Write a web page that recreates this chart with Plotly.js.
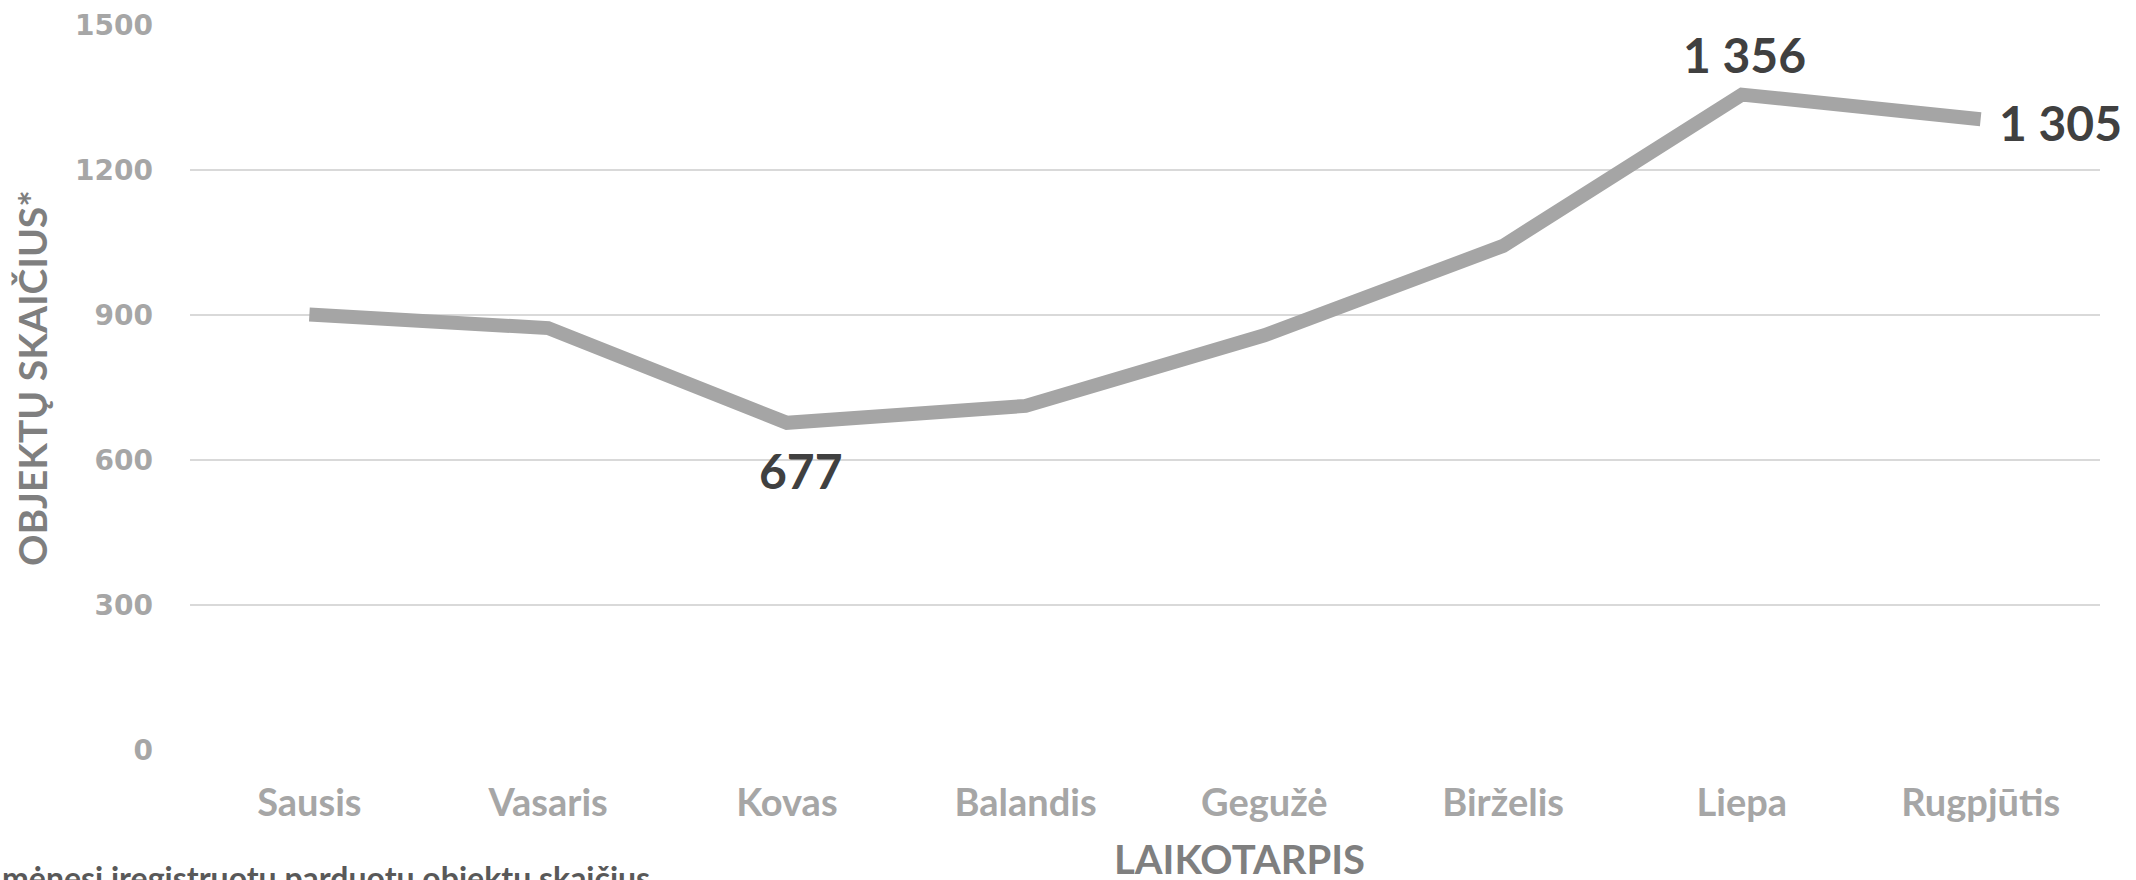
<!DOCTYPE html>
<html>
<head>
<meta charset="utf-8">
<script src="https://cdn.plot.ly/plotly-3.0.1.min.js"></script>
<style>html,body{margin:0;padding:0;background:#fff;}#chart{width:2136px;height:880px;}</style>
</head>
<body>
<div id="chart"></div>
<script>
const months = ["Sausis", "Vasaris", "Kovas", "Balandis", "Gegužė", "Birželis", "Liepa", "Rugpjūtis"];
const objectCounts = [901, 873, 677, 712, 858, 1043, 1356, 1305];
const yTickValues = [0, 300, 600, 900, 1200, 1500];
const labelledIdx = [2, 6, 7];
const yTitle = "OBJEKTŲ SKAIČIUS*";
const xTitle = "LAIKOTARPIS";
const footnote = "mėnesį įregistruotų parduotų objektų skaičius";

function fmt(v) { return String(v).replace(/\B(?=(\d{3})+(?!\d))/g, " "); }

const labelStyle = {
  2: {xanchor: "center", yanchor: "middle", xshift: 14, yshift: -48},
  6: {xanchor: "center", yanchor: "middle", xshift: 3, yshift: 40},
  7: {xanchor: "left", yanchor: "middle", xshift: 16, yshift: -3}
};

const W = 2136, H = 880, L = 190, R = 36, T = 25, B = 130;
const pw = W - L - R, ph = H - T - B;

const annotations = labelledIdx.map(i => Object.assign({
  x: months[i], y: objectCounts[i], xref: "x", yref: "y",
  text: fmt(objectCounts[i]), showarrow: false,
  font: {family: "Lato, 'Noto Sans', sans-serif", size: 48, color: "#404040", weight: 700}
}, labelStyle[i]));

annotations.push({
  xref: "paper", yref: "paper", x: (32 - L) / pw, y: 0.5 + (387.5 - 378) / ph,
  text: yTitle, textangle: -90, showarrow: false, xanchor: "center", yanchor: "middle",
  font: {family: "Lato, 'Noto Sans', sans-serif", size: 39, color: "#7F7F7F", weight: 700}
});
annotations.push({
  xref: "paper", yref: "paper", x: (1239 - L) / pw, y: -(859 - (T + ph)) / ph,
  text: xTitle, showarrow: false, xanchor: "center", yanchor: "middle",
  font: {family: "Lato, 'Noto Sans', sans-serif", size: 40, color: "#7F7F7F", weight: 700}
});
annotations.push({
  xref: "paper", yref: "paper", x: (0 - L) / pw, y: -(877 - (T + ph)) / ph,
  text: footnote, showarrow: false, xanchor: "left", yanchor: "middle",
  font: {family: "Lato, 'Noto Sans', sans-serif", size: 32, color: "#595959", weight: 700}
});

const trace = {
  type: "scatter", mode: "lines", x: months, y: objectCounts,
  line: {color: "#A5A5A5", width: 14, shape: "linear"},
  hoverinfo: "skip", cliponaxis: false
};

const layout = {
  width: W, height: H,
  margin: {l: L, r: R, t: T, b: B, pad: 0},
  paper_bgcolor: "#ffffff", plot_bgcolor: "#ffffff",
  showlegend: false,
  xaxis: {
    type: "category", range: [-0.5, months.length - 0.5],
    showgrid: false, zeroline: false, showline: false, ticks: "",
    ticklabelstandoff: 27,
    tickfont: {family: "Lato, 'Noto Sans', sans-serif", size: 38, color: "#A6A6A6", weight: 700},
    fixedrange: true
  },
  yaxis: {
    range: [0, 1500], tickvals: yTickValues, ticktext: yTickValues.map(String),
    showgrid: true, gridcolor: "#D9D9D9", gridwidth: 2,
    zeroline: false, showline: false, ticks: "",
    ticklabelstandoff: 36,
    tickfont: {family: "'DejaVu Sans', Verdana, sans-serif", size: 28, color: "#A6A6A6", weight: 700},
    fixedrange: true
  },
  annotations: annotations
};

Plotly.newPlot("chart", [trace], layout, {displayModeBar: false, staticPlot: true});
</script>
</body>
</html>
